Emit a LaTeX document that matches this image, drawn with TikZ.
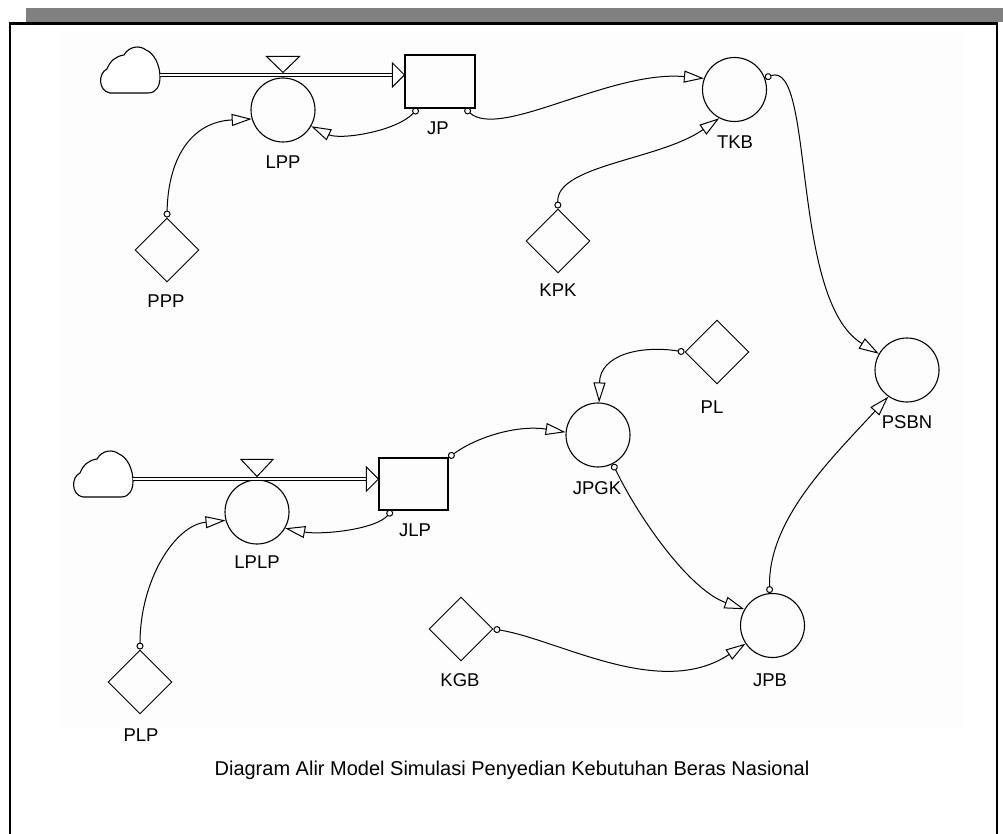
\documentclass[tikz,border=0pt]{standalone}
\usepackage{fontspec}
\setmainfont{Liberation Sans}
\usetikzlibrary{arrows.meta,shapes.geometric}
\definecolor{barc}{HTML}{808080}
\definecolor{panec}{HTML}{FDFDFD}
\begin{document}
\begin{tikzpicture}[x=1pt,y=-1pt,
  rate/.style={circle,draw,line width=1.1pt,minimum size=64pt,inner sep=0pt},
  stock/.style={rectangle,draw,line width=1.1pt,minimum width=70pt,minimum height=53pt,inner sep=0pt},
  conv/.style={diamond,draw,line width=0.9pt,minimum width=64pt,minimum height=64pt,inner sep=0pt,aspect=1},
  lbl/.style={font=\fontsize{18.5}{22}\selectfont,inner sep=0pt},
  link/.style={line width=1pt,{Circle[open,length=7pt,width=7pt,line width=1pt]}-{Triangle[open,length=20pt,width=12pt,line width=1pt]}},
  pipe/.style={double,line width=1pt,double distance=2.6pt},
  valvest/.style={draw,line width=1pt,fill=white},
  cloudst/.style={draw,line width=1.1pt,fill=white}
]
\useasboundingbox (0,0) rectangle (1003,834);
\fill[barc] (26,8) rectangle (1003,22);
\fill[panec] (60,33) rectangle (963,728);
\draw[line width=2.5pt] (10,23.5) rectangle (997,900);

% nodes
\node[rate] (LPP) at (283,110) {};
\node[stock] (JP) at (440,81.5) {};
\node[rate] (TKB) at (734.5,89.5) {};
\node[conv] (PPP) at (167,250) {};
\node[conv] (KPK) at (558,241) {};
\node[rate] (PSBN) at (907,370) {};
\node[rate] (LPLP) at (257,512) {};
\node[stock,minimum width=69pt,minimum height=52pt] (JLP) at (413.5,484) {};
\node[rate] (JPGK) at (598,435) {};
\node[conv] (PL) at (717,352) {};
\node[conv] (KGB) at (461,629) {};
\node[rate] (JPB) at (772.5,625.5) {};
\node[conv] (PLP) at (140,682) {};

% labels
\node[lbl] (tLPP) at (283,162) {LPP};
\node[lbl] (tJP) at (438,128) {JP};
\node[lbl] (tTKB) at (735,142) {TKB};
\node[lbl] (tPPP) at (166,301) {PPP};
\node[lbl] (tKPK) at (558,290) {KPK};
\node[lbl] (tPSBN) at (907,422) {PSBN};
\node[lbl] (tLPLP) at (257,562) {LPLP};
\node[lbl] (tJLP) at (415,530) {JLP};
\node[lbl] (tJPGK) at (597,488) {JPGK};
\node[lbl] (tPL) at (712,407) {PL};
\node[lbl] (tKGB) at (460,680) {KGB};
\node[lbl] (tJPB) at (770,680) {JPB};
\node[lbl] (tPLP) at (141,735) {PLP};
\node[font=\fontsize{20}{24}\selectfont,inner sep=0pt] (cap) at (512,770) {Diagram Alir Model Simulasi Penyedian Kebutuhan Beras Nasional};

% clouds
\coordinate (cl1) at (160,75);
\coordinate (cl2) at (133,479);
\foreach \c in {cl1,cl2}{
  \begin{scope}[shift={(\c)}]
    \draw[cloudst] (-50,18) -- (-12,18) .. controls (-3,18) and (0,10) .. (0,2)
      .. controls (0,-10) and (-6,-22) .. (-14,-25)
      .. controls (-20,-30) and (-31,-29) .. (-36,-20)
      .. controls (-44,-19) and (-50,-14) .. (-53,-6)
      .. controls (-62,-2) and (-62,16) .. (-50,18) -- cycle;
  \end{scope}
}

% pipes
\path (cl1 -| JP.west) coordinate (JPin);
\path (cl2 -| JLP.west) coordinate (JLPin);
\draw[pipe] (cl1) -- ([xshift=-12pt]JPin);
\draw[line width=1pt,fill=white] (JPin) -- ++(-12,-12) -- ++(0,24) -- cycle;
\draw[pipe] (cl2) -- ([xshift=-12pt]JLPin);
\draw[line width=1pt,fill=white] (JLPin) -- ++(-12,-12) -- ++(0,24) -- cycle;

% valves
\draw[valvest] ([yshift=5pt]LPP.north) -- ++(-16.5,-16) -- ++(33,0) -- cycle;
\draw[valvest] ([yshift=3pt]LPLP.north) -- ++(-16,-17) -- ++(32,0) -- cycle;

% connectors
\draw[link] ([xshift=-22pt]JP.south) .. controls (395,132) and (340,140) .. (LPP.-30);
\draw[link] (PPP.north) .. controls (168,160) and (190,122) .. (LPP.196);
\draw[link] ([xshift=25pt]JP.south) .. controls (500,140) and (610,70) .. (TKB.160);
\draw[link] (KPK.north) .. controls (556,165) and (660,160) .. (TKB.242);
\draw[link] (TKB.21) .. controls (815,60) and (790,300) .. (PSBN.150);
\draw[link] ([xshift=-21.5pt]JLP.south) .. controls (375,530) and (320,535) .. (LPLP.-30);
\draw[link] (PLP.north) .. controls (140,580) and (175,525) .. (LPLP.195);
\draw[link] (JLP.north east) .. controls (480,435) and (520,425) .. (JPGK.175);
\draw[link] (PL.west) .. controls (640,345) and (600,355) .. (JPGK.88);
\draw[link] (JPGK.-63) .. controls (640,520) and (690,590) .. (JPB.150);
\draw[link] (KGB.east) .. controls (560,640) and (660,700) .. (JPB.214);
\draw[link] (JPB.95) .. controls (768,520) and (830,460) .. (PSBN.235);
\end{tikzpicture}
\end{document}
